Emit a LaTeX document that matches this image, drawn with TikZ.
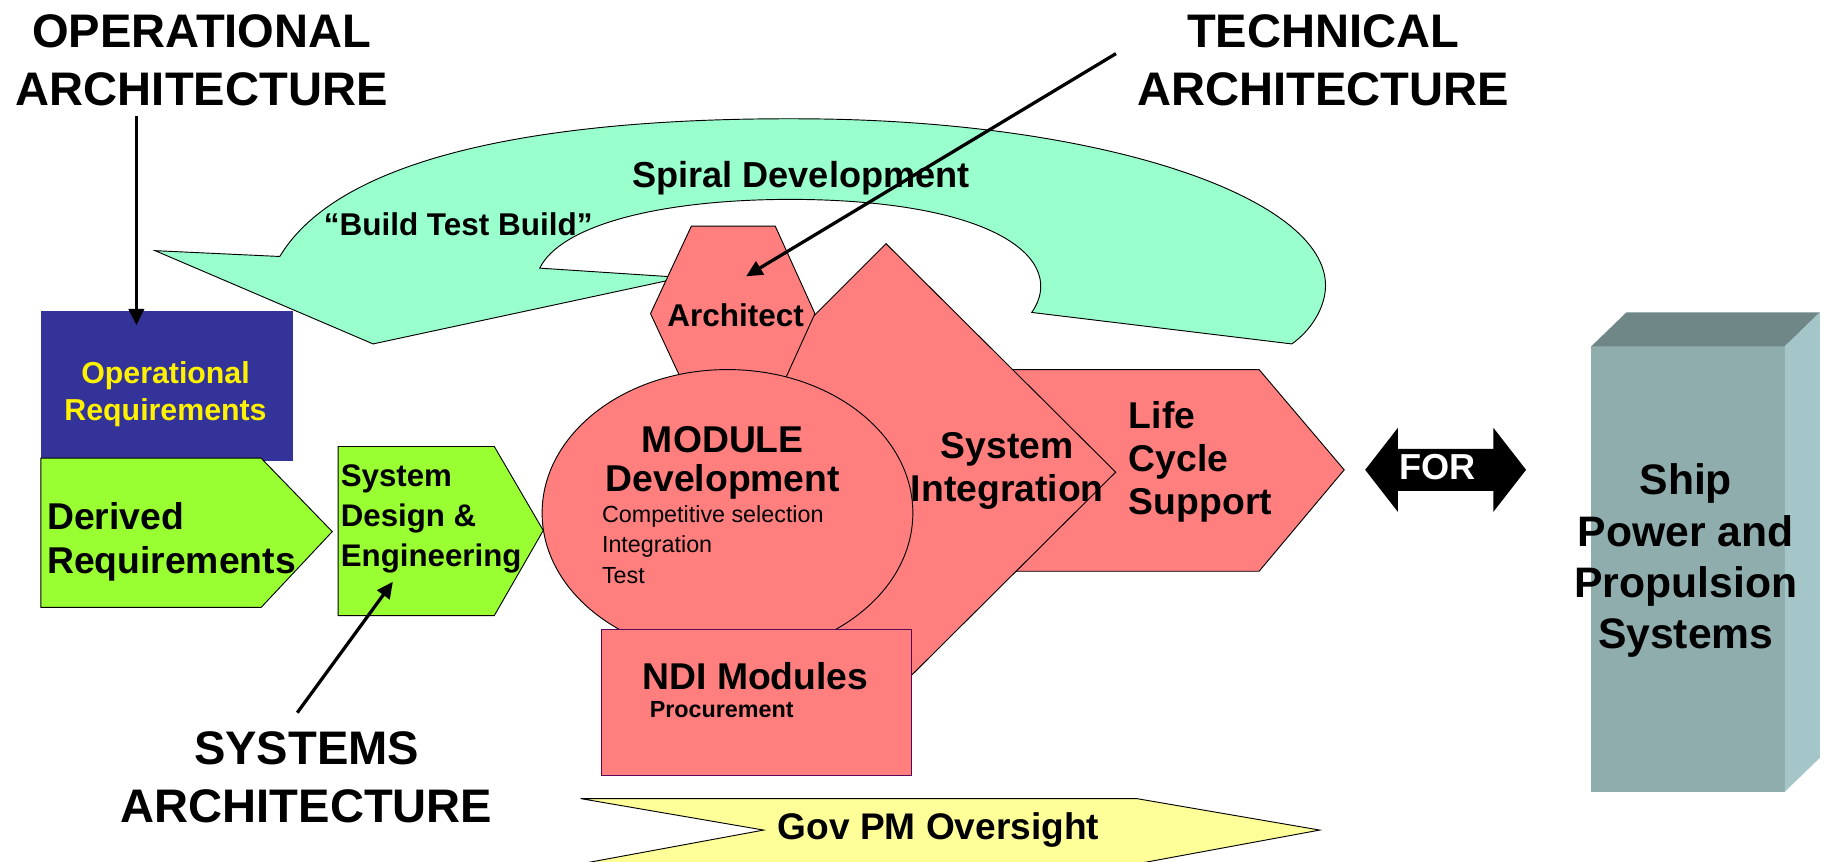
\documentclass[tikz,border=0pt]{standalone}
\usepackage{fontspec}
\setmainfont{Liberation Sans}
\usetikzlibrary{positioning,arrows.meta}

\definecolor{spiralgreen}{HTML}{99FFCC}
\definecolor{modpink}{HTML}{FF7F7F}
\definecolor{reqgreen}{HTML}{99FF33}
\definecolor{opblue}{HTML}{333399}
\definecolor{govyellow}{HTML}{FFFF99}
\definecolor{shipfront}{RGB}{143,173,173}
\definecolor{shiptop}{RGB}{112,135,135}
\definecolor{shipside}{RGB}{165,198,200}

\newcommand{\fsz}[2]{\fontsize{#1}{#2}\selectfont}

\begin{document}
\begin{tikzpicture}[x=0.5pt, y=-0.5pt,
  every node/.style={inner sep=0pt, font=\bfseries},
  outline/.style={draw=black, line width=0.4pt},
  modblock/.style={outline, fill=modpink},
  reqblock/.style={outline, fill=reqgreen},
  callout/.style={-{Triangle[length=7pt,width=6.5pt]}, line width=1.4pt},
  biglabel/.style={align=center, font=\bfseries\fsz{20.2}{25}}]
\useasboundingbox (0,0) rectangle (1568,739);
\fill[white] (0,0) rectangle (1568,739);
\clip (0,0) rectangle (1568,739);

% spiral arrow behind the module blocks
\path[outline, fill=spiralgreen] (133,215) -- (240,220)
  .. controls (300,120) and (520,100) .. (700,102)
  .. controls (950,105) and (1137,170) .. (1137,245)
  .. controls (1137,264) and (1124,284) .. (1108,295) -- (885,268)
  .. controls (915,225) and (860,172) .. (680,171)
  .. controls (560,171) and (480,195) .. (463,230) -- (585,238) -- (320,295) -- cycle;

% module blocks, back to front
\path[modblock] (800,317) -- (1080,317) -- (1153,403) -- (1080,490) -- (800,490) -- cycle;
\path[modblock] (760,209) -- (957,405) -- (760,601) -- (564,405) -- cycle;
\path[modblock] (593,194) -- (665,194) -- (699,269) -- (665,344) -- (593,344) -- (558,269) -- cycle;
\path[modblock] (624,440) ellipse [x radius=159, y radius=123];
\path[fill=modpink, draw=violet!70!black, line width=0.4pt] (516,540) rectangle (782,665);

% requirements
\fill[opblue] (35,267) rectangle (251,395);
\path[reqblock] (35,393) -- (224,393) -- (285,456) -- (224,521) -- (35,521) -- cycle;
\path[reqblock] (290,383) -- (424,383) -- (466,455) -- (424,528) -- (290,528) -- cycle;

% oversight chevron
\path[outline, fill=govyellow] (498,685) -- (975,685) -- (1132,712) -- (975,741) -- (498,741) -- (655,712) -- cycle;

% FOR double arrow
\fill[black] (1171,403) -- (1199,367) -- (1199,385) -- (1281,385) -- (1281,367) -- (1309,403)
  -- (1281,439) -- (1281,421) -- (1199,421) -- (1199,439) -- cycle;

% ship box
\fill[shipfront] (1365,297) rectangle (1531,679);
\fill[shiptop] (1365,297) -- (1395,268) -- (1561,268) -- (1531,297) -- cycle;
\fill[shipside] (1531,297) -- (1561,268) -- (1561,650) -- (1531,679) -- cycle;

% texts
\node[biglabel] (opArch) at (173,52) {OPERATIONAL\\ARCHITECTURE};
\node[biglabel] (techArch) at (1135,52) {TECHNICAL\\ARCHITECTURE};
\node[biglabel] (sysArch) at (263,667) {SYSTEMS\\ARCHITECTURE};

\node[font=\bfseries\fsz{15.5}{19}] (spiralLbl) at (687,153) {Spiral Development};
\node[font=\bfseries\fsz{13.5}{16}] (btbLbl) at (393,192) {``Build Test Build''};
\node[font=\bfseries\fsz{13.5}{16}] (architect) at (631,270) {Architect};

\node[align=center, font=\bfseries\fsz{16}{17}] (module) at (620,397) {MODULE\\Development};
\node[anchor=west, align=left, font=\mdseries\fsz{10}{13}] (moduleItems) at (516,467)
  {Competitive selection\\Integration\\Test};
\node[align=center, font=\bfseries\fsz{16}{18.5}] (sysInt) at (864,404) {System\\Integration};
\node[anchor=west, align=left, font=\bfseries\fsz{16}{18.5}] (lifeCycle) at (968,396) {Life\\Cycle\\Support};

\node[font=\bfseries\fsz{15.5}{18}, text=white] (forLbl) at (1233,401) {FOR};
\node[align=center, font=\bfseries\fsz{18.3}{22}] (ship) at (1446,481) {Ship\\Power and\\Propulsion\\Systems};

\node[font=\bfseries\fsz{16}{18}] (ndi) at (648,580) {NDI Modules};
\node[anchor=west, font=\bfseries\fsz{10}{12}] (procure) at (557,609) {Procurement};
\node[font=\bfseries\fsz{15.9}{18}] (govPM) at (805,712) {Gov PM Oversight};

\node[align=center, text=yellow, font=\bfseries\fsz{13}{16}] (opReq) at (142,338) {Operational\\Requirements};
\node[anchor=west, align=left, font=\bfseries\fsz{16}{19}] (derivedReq) at (40,465) {Derived\\Requirements};
\node[anchor=west, align=left, font=\bfseries\fsz{13.4}{17}] (sysDesign) at (292,445) {System\\Design \&\\Engineering};

% architecture callouts
\coordinate (opTip) at (117,279);
\coordinate (techTip) at (640,237);
\coordinate (sysTip) at (337,499);
\draw[callout] ([yshift=-4pt]opArch.south -| opTip) -- (opTip);
\draw[callout] ([xshift=-9pt,yshift=3pt]techArch.west) -- (techTip);
\draw[callout] ([xshift=-4pt,yshift=8pt]sysArch.north) -- (sysTip);
\end{tikzpicture}
\end{document}
